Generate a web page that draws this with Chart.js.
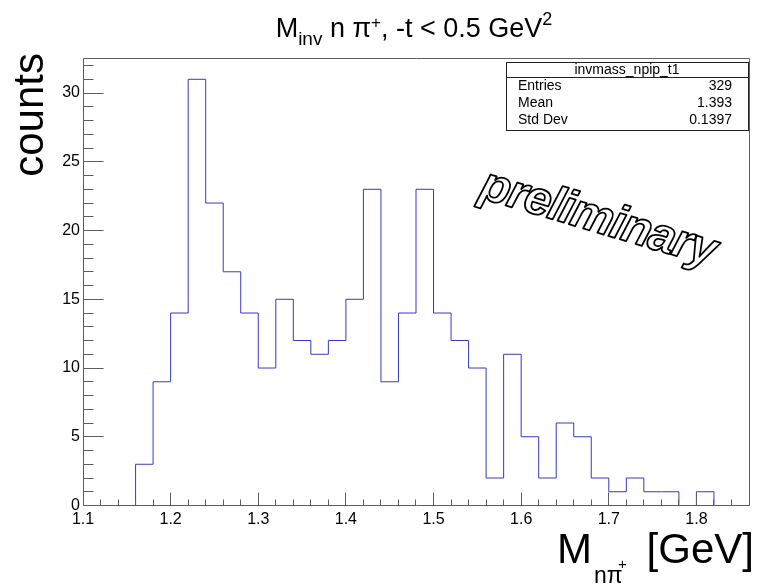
<!DOCTYPE html>
<html><head><meta charset="utf-8">
<script src="https://cdn.jsdelivr.net/npm/chart.js@4.4.1/dist/chart.umd.min.js"></script>
<style>html,body{margin:0;padding:0;background:#fff;} canvas{display:block;}</style>
</head><body>
<canvas id="c" width="759" height="588"></canvas>
<script>
// ---- data ----
const binEdges = [1.10,1.12,1.14,1.16,1.18,1.20,1.22,1.24,1.26,1.28,1.30,1.32,1.34,1.36,1.38,1.40,1.42,1.44,1.46,1.48,1.50,1.52,1.54,1.56,1.58,1.60,1.62,1.64,1.66,1.68,1.70,1.72,1.74,1.76,1.78,1.80,1.82,1.84,1.86];
const counts = [0,0,0,3,9,14,31,22,17,14,10,15,12,11,12,15,23,9,14,23,14,12,10,2,11,5,2,6,5,2,1,2,1,1,0,1,0,0];
const xTickValues = [1.1,1.2,1.3,1.4,1.5,1.6,1.7,1.8];
const yTickValues = [0,5,10,15,20,25,30];
const xRange = [1.10, 1.86];
const yRange = [0, 32.55];
const histName = 'invmass_npip_t1';
const statsLabels = ['Entries','Mean','Std Dev'];
const statsValues = ['329','1.393','0.1397'];

const FONT = "'Liberation Sans', Arial, Helvetica, sans-serif";

const points = binEdges.slice(0, counts.length).map((e, i) => ({x: e, y: counts[i]}));
points.push({x: binEdges[binEdges.length - 1], y: counts[counts.length - 1]});

function drawPieces(ctx, pieces, cx, baseY, align) {
  let total = 0;
  pieces.forEach(p => { ctx.font = `${p.size}px ${FONT}`; p.w = ctx.measureText(p.t).width; total += p.w; });
  let x = align === 'center' ? cx - total / 2 : cx;
  ctx.textAlign = 'left'; ctx.textBaseline = 'alphabetic';
  pieces.forEach(p => { ctx.font = `${p.size}px ${FONT}`; ctx.fillText(p.t, x, baseY + (p.dy || 0)); x += p.w; });
}

const framePlugin = {
  id: 'rootFrame',
  afterDatasetsDraw(chart) {
    const {ctx, chartArea: a, scales: {x, y}} = chart;
    ctx.save();
    ctx.strokeStyle = '#5e5e5e';
    ctx.lineWidth = 1;
    const bottom = Math.floor(a.bottom) + 0.5;
    const left = Math.floor(a.left) + 0.5;
    const top = Math.floor(a.top) + 0.5;
    const right = Math.floor(a.right) + 0.5;
    ctx.beginPath();
    const nx = Math.round((xRange[1] - xRange[0]) / 0.02);
    for (let k = 0; k <= nx; k++) {
      const px = Math.floor(x.getPixelForValue(xRange[0] + k * 0.02)) + 0.5;
      ctx.moveTo(px, bottom);
      ctx.lineTo(px, bottom - (k % 5 === 0 ? 13 : 6));
    }
    for (let k = 0; k <= 32; k++) {
      const py = Math.floor(y.getPixelForValue(k)) + 0.5;
      ctx.moveTo(left, py);
      ctx.lineTo(left + (k % 5 === 0 ? 20 : 10), py);
    }
    ctx.moveTo(left, top); ctx.lineTo(right, top); ctx.lineTo(right, bottom); ctx.lineTo(left, bottom); ctx.closePath();
    ctx.stroke();
    ctx.restore();
  },
  afterDraw(chart) {
    const ctx = chart.ctx;
    ctx.save();
    ctx.fillStyle = '#000';
    // title
    drawPieces(ctx, [
      {t: 'M', size: 27},
      {t: 'inv', size: 19, dy: 8},
      {t: ' n \u03c0', size: 27},
      {t: '+', size: 17, dy: -9},
      {t: ', -t < 0.5 GeV', size: 27},
      {t: '2', size: 18, dy: -12}
    ], 414, 37, 'center');
    // y title
    ctx.save();
    ctx.translate(43, 53);
    ctx.rotate(-Math.PI / 2);
    ctx.font = `42px ${FONT}`;
    ctx.textAlign = 'right';
    ctx.textBaseline = 'alphabetic';
    ctx.fillText('counts', 0, 0);
    ctx.restore();
    // x title
    ctx.font = `42px ${FONT}`;
    ctx.textAlign = 'left';
    ctx.fillText('M', 557, 563);
    ctx.font = `23px ${FONT}`;
    ctx.fillText('n\u03c0', 594, 583);
    ctx.font = `15px ${FONT}`;
    ctx.fillText('+', 618, 569);
    ctx.font = `42px ${FONT}`;
    ctx.textAlign = 'right';
    ctx.fillText('[GeV]', 754, 563);
    // stats box
    ctx.fillStyle = '#fff';
    ctx.fillRect(506, 62, 242, 68);
    ctx.strokeStyle = '#222';
    ctx.lineWidth = 1;
    ctx.strokeRect(506.5, 62.5, 242, 68);
    ctx.beginPath(); ctx.moveTo(506, 77.5); ctx.lineTo(748, 77.5); ctx.stroke();
    ctx.fillStyle = '#000';
    ctx.font = `14px ${FONT}`;
    ctx.textAlign = 'center';
    ctx.fillText(histName, 627, 74);
    const rowsY = [90, 107, 124];
    statsLabels.forEach((l, i) => {
      ctx.textAlign = 'left'; ctx.fillText(l, 518, rowsY[i]);
      ctx.textAlign = 'right'; ctx.fillText(statsValues[i], 732, rowsY[i]);
    });
    // preliminary
    ctx.save();
    ctx.translate(598, 219);
    ctx.rotate(16.5 * Math.PI / 180);
    ctx.font = `italic bold 48px ${FONT}`;
    try { ctx.letterSpacing = '-1.5px'; } catch (e) {}
    ctx.textAlign = 'center';
    ctx.textBaseline = 'middle';
    ctx.fillStyle = '#fff';
    ctx.fillText('preliminary', 0, 0);
    ctx.strokeStyle = '#000';
    ctx.lineWidth = 1.8;
    ctx.lineJoin = 'round';
    ctx.strokeText('preliminary', 0, 0);
    ctx.restore();
    ctx.restore();
  }
};

new Chart(document.getElementById('c'), {
  type: 'line',
  data: {
    datasets: [{
      data: points,
      stepped: true,
      borderColor: '#3838c4',
      borderWidth: 1,
      pointRadius: 0,
      fill: false,
      tension: 0
    }]
  },
  options: {
    responsive: false,
    devicePixelRatio: 1,
    animation: false,
    events: [],
    layout: {padding: {left: 0, right: 10, top: 58, bottom: 0}},
    plugins: {legend: {display: false}, title: {display: false}, tooltip: {enabled: false}},
    scales: {
      x: {
        type: 'linear',
        min: xRange[0], max: xRange[1],
        grid: {display: false, drawTicks: false},
        border: {display: false},
        afterBuildTicks: s => { s.ticks = xTickValues.map(v => ({value: v})); },
        afterFit: s => { s.height = 82.5; },
        ticks: {
          padding: 4,
          color: '#000',
          font: {family: FONT, size: 16},
          maxRotation: 0,
          autoSkip: false,
          callback: v => v.toFixed(1)
        }
      },
      y: {
        type: 'linear',
        min: yRange[0], max: yRange[1],
        grid: {display: false, drawTicks: false},
        border: {display: false},
        afterBuildTicks: s => { s.ticks = yTickValues.map(v => ({value: v})); },
        afterFit: s => { s.width = 83; },
        ticks: {
          padding: 3,
          color: '#000',
          font: {family: FONT, size: 16},
          autoSkip: false,
          callback: v => String(v)
        }
      }
    }
  },
  plugins: [framePlugin]
});
</script>
</body></html>
